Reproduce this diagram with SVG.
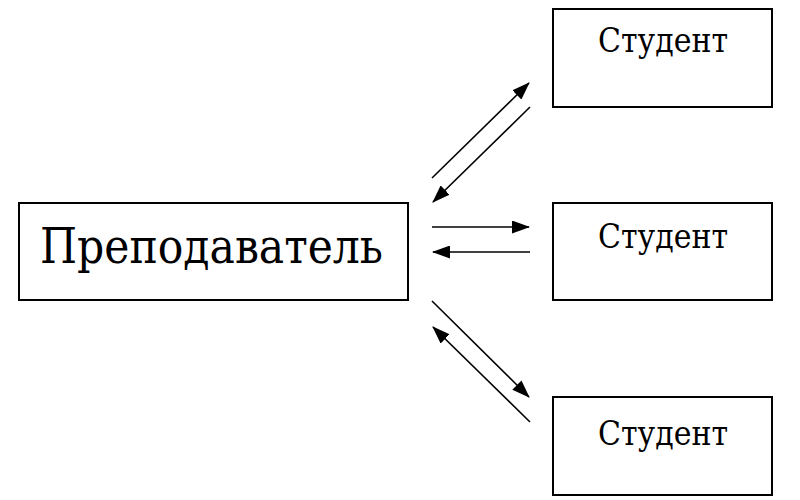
<svg xmlns="http://www.w3.org/2000/svg" width="800" height="500" viewBox="0 0 800 500">
<style>
.box{fill:#fff;stroke:#000;stroke-width:2}
.t{font-family:'DejaVu Serif',serif;fill:#000}
.c{stroke:#000;stroke-width:1.6;fill:none}
</style>
<defs>
<marker id="ah" viewBox="0 0 18 13" refX="17" refY="6.5" markerWidth="18" markerHeight="13" markerUnits="userSpaceOnUse" orient="auto">
<path d="M0,0 L18,6.5 L0,13 Z" fill="#000"/>
</marker>
</defs>
<rect width="800" height="500" fill="#fff"/>
<g id="teacher">
<rect class="box" x="19" y="203" width="389" height="97"/>
<text class="t" x="40" y="263" font-size="48" textLength="343" lengthAdjust="spacingAndGlyphs">Преподаватель</text>
</g>
<g id="student1">
<rect class="box" x="553" y="9" width="219" height="98"/>
<text class="t" x="598" y="52" font-size="33" textLength="130" lengthAdjust="spacingAndGlyphs">Студент</text>
</g>
<g id="student2">
<rect class="box" x="553" y="203" width="219" height="97"/>
<text class="t" x="598" y="248" font-size="33" textLength="130" lengthAdjust="spacingAndGlyphs">Студент</text>
</g>
<g id="student3">
<rect class="box" x="553" y="397" width="219" height="98"/>
<text class="t" x="598" y="445" font-size="33" textLength="130" lengthAdjust="spacingAndGlyphs">Студент</text>
</g>
<g id="connectors">
<line class="c" x1="432" y1="178" x2="529" y2="83" marker-end="url(#ah)"/>
<line class="c" x1="530" y1="107" x2="433" y2="202" marker-end="url(#ah)"/>
<line class="c" x1="432" y1="227" x2="529" y2="227" marker-end="url(#ah)"/>
<line class="c" x1="530" y1="252" x2="433" y2="252" marker-end="url(#ah)"/>
<line class="c" x1="432" y1="301" x2="529" y2="397" marker-end="url(#ah)"/>
<line class="c" x1="530" y1="422" x2="433" y2="327" marker-end="url(#ah)"/>
</g>
</svg>
